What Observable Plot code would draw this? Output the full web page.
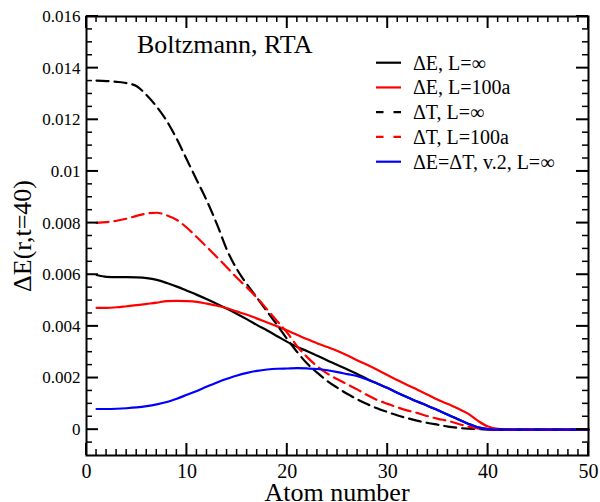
<!DOCTYPE html>
<html><head><meta charset="utf-8">
<script src="https://cdn.jsdelivr.net/npm/d3@7"></script>
<script src="https://cdn.jsdelivr.net/npm/@observablehq/plot@0.6"></script>
<style>
body{margin:0;background:#fff;}
#chart{position:relative;width:600px;height:502px;overflow:hidden;}
</style>
</head><body><div id="chart"></div>
<script>
// ---- data ----
const atom = [1,2,3,4,5,6,7,8,9,10,11,12,13,14,15,16,17,18,19,20,21,22,23,24,25,26,27,28,29,30,31,32,33,34,35,36,37,38,39,40,41,42,43,44,45,46,47,48,49,50];

const dE_inf = [0.00599,0.00592,0.00591,0.00591,0.00590,0.00587,0.00580,0.00568,0.00554,0.00538,0.00522,0.00505,0.00487,0.00468,0.00448,0.00427,0.00405,0.00384,0.00362,0.00340,0.00320,0.00304,0.00286,0.00268,0.00250,0.00233,0.00215,0.00195,0.00178,0.00161,0.00142,0.00125,0.00108,0.00092,0.00075,0.00058,0.00040,0.00023,0.00009,0.00002,0,0,0,0,0,0,0,0,0,0];

const dE_100a = [0.00472,0.00472,0.00474,0.00478,0.00482,0.00487,0.00492,0.00498,0.00499,0.00498,0.00495,0.00488,0.00480,0.00470,0.00457,0.00445,0.00430,0.00415,0.00400,0.00384,0.00367,0.00350,0.00334,0.00320,0.00305,0.00287,0.00268,0.00250,0.00231,0.00211,0.00191,0.00172,0.00154,0.00135,0.00116,0.00099,0.00082,0.00062,0.00034,0.00012,0.00003,0.00001,0,0,0,0,0,0,0,0];

const dT_inf = [0.01352,0.01350,0.01347,0.01342,0.01330,0.01295,0.01250,0.01195,0.01125,0.01045,0.00965,0.00885,0.00795,0.00695,0.00620,0.00562,0.00510,0.00457,0.00405,0.00350,0.00300,0.00255,0.00220,0.00188,0.00162,0.00138,0.00117,0.00098,0.00082,0.00068,0.00055,0.00044,0.00034,0.00026,0.00019,0.00012,0.00007,0.00004,0.00002,0.000005,0,0,0,0,0,0,0,0,0,0];

const dT_100a = [0.00801,0.00804,0.00809,0.00817,0.00828,0.00837,0.00840,0.00830,0.00812,0.00782,0.00745,0.00707,0.00668,0.00628,0.00587,0.00550,0.00510,0.00465,0.00420,0.00375,0.00322,0.00280,0.00245,0.00217,0.00195,0.00175,0.00155,0.00133,0.00114,0.00100,0.00086,0.00074,0.00064,0.00052,0.00042,0.00034,0.00023,0.00012,0.00005,0.00002,0,0,0,0,0,0,0,0,0,0];

const dEdT_v2 = [0.00080,0.00080,0.00081,0.00083,0.00086,0.00091,0.00098,0.00107,0.00120,0.00135,0.00150,0.00167,0.00183,0.00197,0.00210,0.00220,0.00228,0.00233,0.00236,0.00237,0.00238,0.00237,0.00235,0.00230,0.00223,0.00215,0.00207,0.00193,0.00178,0.00161,0.00142,0.00125,0.00108,0.00092,0.00075,0.00058,0.00040,0.00023,0.00009,0.00002,0,0,0,0,0,0,0,0,0,0];

const seriesNames = ["ΔE, L=∞", "ΔE, L=100a", "ΔT, L=∞", "ΔT, L=100a", "ΔE=ΔT, v.2, L=∞"];
const seriesValues = [dE_inf, dE_100a, dT_inf, dT_100a, dEdT_v2];
const seriesColors = ["#000000", "#ff0000", "#000000", "#ff0000", "#0000ff"];
const seriesDashed = [false, false, true, true, false];

const xMajor = [0,10,20,30,40,50];
const xMinor = [1,2,3,4,5,6,7,8,9,11,12,13,14,15,16,17,18,19,21,22,23,24,25,26,27,28,29,31,32,33,34,35,36,37,38,39,41,42,43,44,45,46,47,48,49];
const yMajor = [0,0.002,0.004,0.006,0.008,0.01,0.012,0.014,0.016];
const yTickLabels = ["0","0.002","0.004","0.006","0.008","0.01","0.012","0.014","0.016"];
const yMinor = [-0.0005,0.0005,0.001,0.0015,0.0025,0.003,0.0035,0.0045,0.005,0.0055,0.0065,0.007,0.0075,0.0085,0.009,0.0095,0.0105,0.011,0.0115,0.0125,0.013,0.0135,0.0145,0.015,0.0155];

const titleText = "Boltzmann, RTA";
const xLabel = "Atom number";
const yLabel = "ΔE(r,t=40)";

// ---- chart ----
const mL = 86, mR = 12, mT = 16, mB = 47, chartW = 600, chartH = 502;
const rows = seriesNames.flatMap((name, k) => seriesValues[k].map((v, i) => ({x: atom[i], y: v, name})));

const lineMarks = [0,1,2,3,4].map(k => Plot.line(rows.filter(r => r.name === seriesNames[k]), {
  x: "x", y: "y", stroke: seriesColors[k], strokeWidth: 2.2,
  strokeDasharray: seriesDashed[k] ? "12,6" : null, curve: "monotone-x"
}));

const fontStack = "'Liberation Serif', 'Times New Roman', serif";
const svg = Plot.plot({
  width: chartW, height: chartH,
  marginLeft: mL, marginRight: mR, marginTop: mT, marginBottom: mB,
  style: {fontFamily: fontStack, color: "black", background: "white"},
  x: {domain: [0, 50]},
  y: {domain: [-0.001, 0.016]},
  marks: [
    ...lineMarks,
    Plot.frame({stroke: "black", strokeWidth: 2}),
    Plot.axisX(xMajor, {anchor: "bottom", tickSize: 0, tickPadding: 8, fontSize: 20, label: null}),
    Plot.axisY(yMajor, {anchor: "left", tickSize: 0, tickPadding: 6, fontSize: 17, label: null,
      tickFormat: d => yTickLabels[yMajor.indexOf(d)]})
  ]
});
document.getElementById("chart").appendChild(svg);

const sel = d3.select(svg);

// ---- inward ticks on all four sides, placed with Plot's own scales ----
try {
  const sx = svg.scale("x"), sy = svg.scale("y");
  const fLeft = mL, fRight = chartW - mR, fTop = mT, fBottom = chartH - mB;
  const tg = sel.append("g").attr("stroke", "black").attr("fill", "none");
  const drawX = (vals, len, w) => vals.forEach(v => {
    const px = sx.apply(v);
    tg.append("line").attr("x1", px).attr("x2", px).attr("y1", fBottom).attr("y2", fBottom - len).attr("stroke-width", w);
    tg.append("line").attr("x1", px).attr("x2", px).attr("y1", fTop).attr("y2", fTop + len).attr("stroke-width", w);
  });
  const drawY = (vals, len, w) => vals.forEach(v => {
    const py = sy.apply(v);
    tg.append("line").attr("x1", fLeft).attr("x2", fLeft + len).attr("y1", py).attr("y2", py).attr("stroke-width", w);
    tg.append("line").attr("x1", fRight).attr("x2", fRight - len).attr("y1", py).attr("y2", py).attr("stroke-width", w);
  });
  drawX(xMajor, 12, 2); drawX(xMinor, 6, 1.5);
  drawY(yMajor, 12, 2); drawY(yMinor, 6, 1.5);
} catch (e) { console.error(e); }

// ---- annotations: title, axis labels, legend ----
function addText(x, y, size, anchor, str, transform) {
  const t = sel.append("text").attr("font-size", size).attr("text-anchor", anchor)
    .style("font-family", fontStack).style("text-anchor", anchor).attr("fill", "black").text(str);
  if (transform) t.attr("transform", transform); else t.attr("x", x).attr("y", y);
  return t;
}
addText(137, 53, 26, "start", titleText);
addText(337, 501, 26, "middle", xLabel);
addText(0, 0, 26, "middle", yLabel, "translate(31,236) rotate(-90)");

seriesNames.forEach((name, k) => {
  const cy = 62.7 + k * 24.75;
  sel.append("line").attr("x1", 376).attr("x2", 401).attr("y1", cy).attr("y2", cy)
    .attr("stroke", seriesColors[k]).attr("stroke-width", 2.2)
    .attr("stroke-dasharray", seriesDashed[k] ? "7.5,10" : null);
  addText(413, cy + 6.8, 20, "start", name);
});
</script>
</body></html>
